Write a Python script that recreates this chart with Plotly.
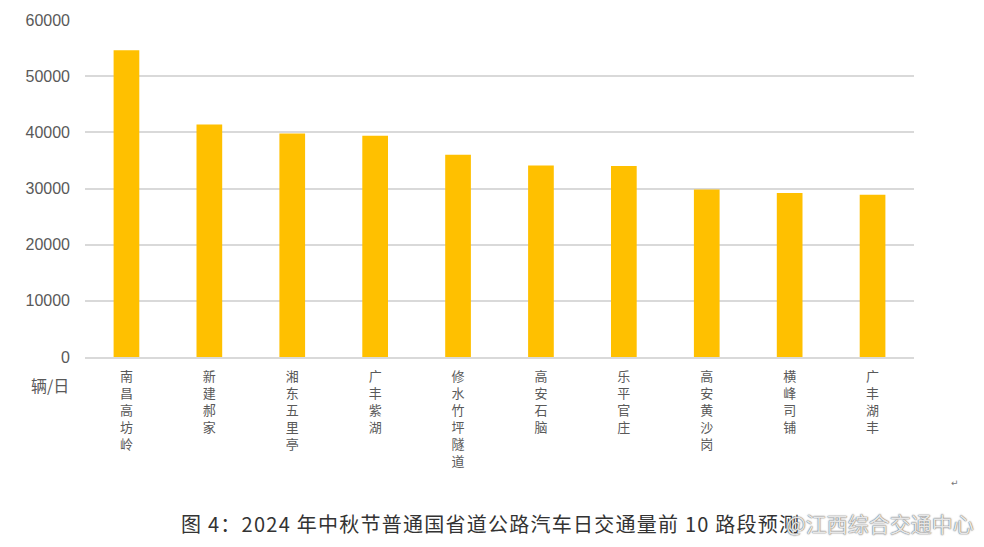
import plotly.graph_objects as go

categories = ["南昌高坊岭", "新建郝家", "湘东五里亭", "广丰紫湖", "修水竹坪隧道",
              "高安石脑", "乐平官庄", "高安黄沙岗", "横峰司铺", "广丰湖丰"]
values = [54600, 41400, 39800, 39400, 36000, 34100, 34000, 29800, 29200, 28900]
y_ticks = [0, 10000, 20000, 30000, 40000, 50000, 60000]
unit_label = "辆/日"
caption = "图 4：2024 年中秋节普通国省道公路汽车日交通量前 10 路段预测"
watermark = "@江西综合交通中心"

cjk = "Noto Sans CJK SC"
gray = "#595959"

tick_text = ["<br>".join(list(c)) for c in categories]

# spread caption characters slightly (hair spaces) to mimic document letter spacing
caption_spaced = "\u200a".join(list(caption))

fig = go.Figure()
fig.add_trace(go.Bar(
    x=categories, y=values, marker=dict(color="#FFC000", line=dict(width=0)),
    width=0.31, hoverinfo="x+y",
))

fig.update_layout(
    width=984, height=547,
    margin=dict(l=85, r=70, t=20, b=190),
    paper_bgcolor="white", plot_bgcolor="white",
    showlegend=False,
    xaxis=dict(
        tickmode="array", tickvals=categories, ticktext=tick_text,
        tickfont=dict(family=cjk, size=13, color=gray),
        showgrid=False, showline=True, linecolor="#D9D9D9", linewidth=1.5,
        ticks="", ticklabelstandoff=7, tickangle=0, fixedrange=True,
    ),
    yaxis=dict(
        range=[0, 60000], tickvals=y_ticks, ticktext=[str(v) for v in y_ticks],
        tickfont=dict(family="Liberation Sans, Arial", size=16, color=gray),
        showgrid=True, gridcolor="#D9D9D9", gridwidth=1.5,
        zeroline=False, showline=False, ticks="", ticklabelstandoff=14,
        fixedrange=True,
    ),
)

plot_w = 984 - 85 - 70
plot_h = 547 - 20 - 190

def px_to_paper(px, py):
    return (px - 85) / plot_w, (547 - 190 - py) / plot_h

ux, uy = px_to_paper(50, 385)
fig.add_annotation(
    x=ux, y=uy, xref="paper", yref="paper", text=unit_label, showarrow=False,
    font=dict(family=cjk, size=16, color=gray), xanchor="center", yanchor="middle",
)

cx, cy = px_to_paper(179, 523)
fig.add_annotation(
    x=cx, y=cy, xref="paper", yref="paper", text=caption_spaced, showarrow=False,
    font=dict(family=cjk, size=20, color="#333333"), xanchor="left", yanchor="middle",
)
mx, my = px_to_paper(955, 483)
fig.add_annotation(
    x=mx, y=my, xref="paper", yref="paper", text="↵", showarrow=False,
    font=dict(family="DejaVu Sans", size=9, color="#777777"), xanchor="center", yanchor="middle",
)
wx, wy = px_to_paper(976, 523)
fig.add_annotation(
    x=wx, y=wy, xref="paper", yref="paper", text=watermark, showarrow=False,
    font=dict(family=cjk, size=21, color="rgba(255,255,255,0.85)",
              shadow="0px 0px 1.5px #555, 0px 0px 1px #555"),
    xanchor="right", yanchor="middle",
)

fig.write_html("out.html")
